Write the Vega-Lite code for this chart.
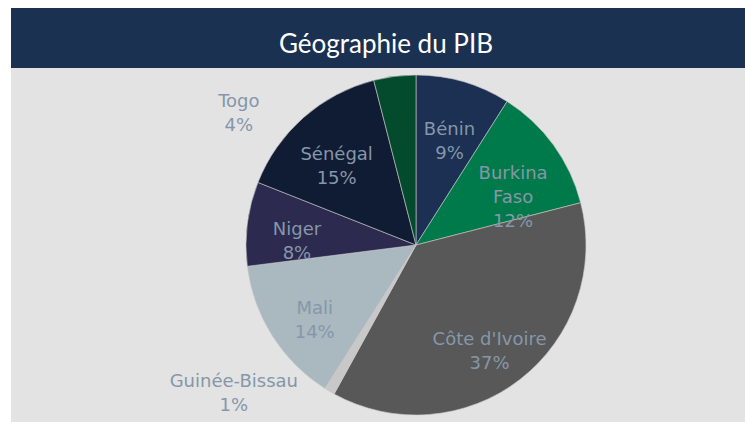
{
  "$schema": "https://vega.github.io/schema/vega-lite/v6.json",
  "background": "white",
  "padding": {"left": 11, "top": 8, "right": 0, "bottom": 0},
  "spacing": 0,
  "bounds": "flush",
  "config": {
    "view": {"stroke": null, "fill": "#e3e3e3"},
    "concat": {"spacing": 0}
  },
  "datasets": {
    "pib": [
      {"rang": 1, "pays": "Bénin", "part": 9, "etiquette": "Bénin\n9%"},
      {"rang": 2, "pays": "Burkina Faso", "part": 12, "etiquette": "Burkina\nFaso\n12%"},
      {"rang": 3, "pays": "Côte d'Ivoire", "part": 37, "etiquette": "Côte d'Ivoire\n37%"},
      {"rang": 4, "pays": "Guinée-Bissau", "part": 1, "etiquette": "Guinée-Bissau\n1%"},
      {"rang": 5, "pays": "Mali", "part": 14, "etiquette": "Mali\n14%"},
      {"rang": 6, "pays": "Niger", "part": 8, "etiquette": "Niger\n8%"},
      {"rang": 7, "pays": "Sénégal", "part": 15, "etiquette": "Sénégal\n15%"},
      {"rang": 8, "pays": "Togo", "part": 4, "etiquette": "Togo\n4%"}
    ]
  },
  "vconcat": [
    {
      "width": 734,
      "height": 60,
      "view": {"fill": "#1b3152", "stroke": null},
      "data": {"values": [{"titre": "Géographie du PIB"}]},
      "mark": {"type": "text", "font": "Lato", "fontSize": 26, "color": "white", "baseline": "middle", "dy": 7, "dx": 8},
      "encoding": {"text": {"field": "titre"}}
    },
    {
      "spacing": 0,
      "bounds": "flush",
      "hconcat": [
        {
          "width": 76,
          "height": 354,
          "view": {"fill": "#e3e3e3", "stroke": null},
          "data": {"values": [{"vide": ""}]},
          "mark": {"type": "text"},
          "encoding": {"text": {"field": "vide"}}
        },
        {
          "width": 658,
          "height": 354,
          "view": {"fill": "#e3e3e3", "stroke": null},
          "data": {"name": "pib"},
          "encoding": {
            "theta": {"field": "part", "type": "quantitative", "stack": true},
            "order": {"field": "rang", "type": "ordinal"}
          },
          "layer": [
            {
              "mark": {"type": "arc", "outerRadius": 170, "stroke": "#c9c9c9", "strokeWidth": 0.6},
              "encoding": {
                "color": {
                  "field": "pays",
                  "type": "nominal",
                  "legend": null,
                  "scale": {
                    "domain": ["Bénin", "Burkina Faso", "Côte d'Ivoire", "Guinée-Bissau", "Mali", "Niger", "Sénégal", "Togo"],
                    "range": ["#1b3052", "#007a4a", "#585858", "#c8c8c8", "#aab8c0", "#2d2a50", "#101c33", "#044a2c"]
                  }
                }
              }
            },
            {
              "mark": {"type": "text", "radius": 120, "font": "DejaVu Sans", "fontSize": 18, "lineBreak": "\n", "lineHeight": 24, "color": "#8597a9", "baseline": "middle"},
              "encoding": {
                "text": {"condition": {"test": "datum.pays === 'Togo' || datum.pays === 'Guinée-Bissau'", "value": ""}, "field": "etiquette"}
              }
            },
            {
              "mark": {"type": "text", "radius": 185, "dx": -154, "dy": 41, "font": "DejaVu Sans", "fontSize": 18, "lineBreak": "\n", "lineHeight": 24, "color": "#8597a9", "baseline": "middle"},
              "encoding": {
                "text": {"condition": {"test": "datum.pays === 'Togo'", "field": "etiquette"}, "value": ""}
              }
            },
            {
              "mark": {"type": "text", "radius": 185, "dx": -88, "dy": -22, "font": "DejaVu Sans", "fontSize": 18, "lineBreak": "\n", "lineHeight": 24, "color": "#8597a9", "baseline": "middle"},
              "encoding": {
                "text": {"condition": {"test": "datum.pays === 'Guinée-Bissau'", "field": "etiquette"}, "value": ""}
              }
            }
          ]
        }
      ]
    }
  ]
}
